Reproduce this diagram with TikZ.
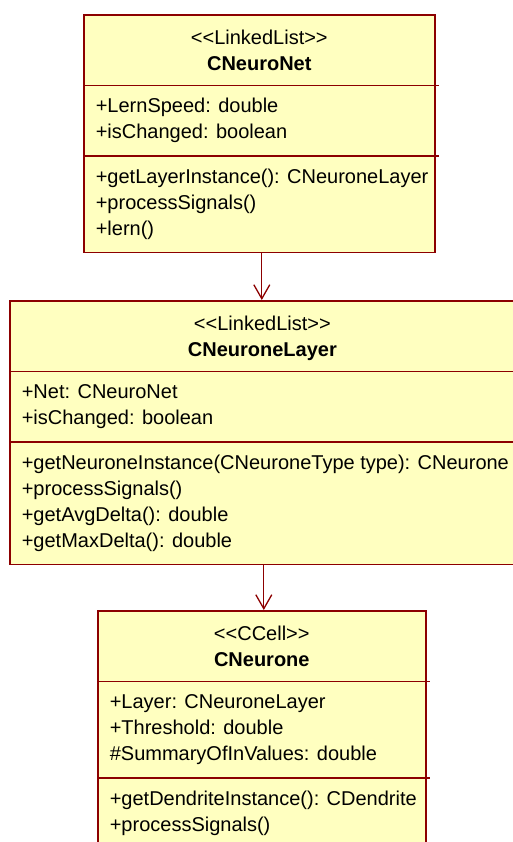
\documentclass[tikz,border=0pt]{standalone}
\usepackage{fontspec}
\setmainfont{Liberation Sans}
\usetikzlibrary{shapes.multipart,arrows.meta}
\definecolor{umlborder}{RGB}{140,0,0}
\definecolor{umlfill}{RGB}{255,255,192}
\tikzset{umlclass/.style={rectangle split, rectangle split parts=3,
      draw=umlborder, fill=umlfill, line width=1.6pt,
      inner xsep=9pt, inner ysep=8.5pt, anchor=north west,
      rectangle split part align={center,left,left},
      font=\fontsize{20}{26}\selectfont}}
\tikzset{umlarrow/.style={draw=umlborder, line width=1.3pt,
      -{Straight Barb[length=14pt,width=16pt]}}}
\newcommand{\umlhead}[2]{\begin{tabular}{@{}c@{}}\raisebox{-2pt}{<{}<#1>{}>}\\\raisebox{-2pt}{\textbf{#2}}\end{tabular}}
\newcommand{\umlrows}[1]{\begin{tabular}{@{\hspace{3pt}}l@{\hspace{-3pt}}}#1\end{tabular}}

\begin{document}
\begin{tikzpicture}[x=1pt,y=-1pt]
    \useasboundingbox (0,0) rectangle (513,842);
    \clip (0,0) rectangle (513,842);

    \node[umlclass, minimum width=351pt] (net) at (83,14)
      {\umlhead{LinkedList}{CNeuroNet}
       \nodepart{second}\umlrows{+LernSpeed: double\\+isChanged: boolean}
       \nodepart{third}\umlrows{+getLayerInstance(): CNeuroneLayer\\+processSignals()\\+lern()}};

    \node[umlclass] (layer) at (9,300)
      {\umlhead{LinkedList}{CNeuroneLayer}
       \nodepart{second}\umlrows{+Net: CNeuroNet\\+isChanged: boolean}
       \nodepart{third}\umlrows{+getNeuroneInstance(CNeuroneType type): CNeurone\\+processSignals()\\+getAvgDelta(): double\\+getMaxDelta(): double}};

    \node[umlclass, minimum width=328pt] (neurone) at (97,610)
      {\umlhead{CCell}{CNeurone}
       \nodepart{second}\umlrows{+Layer: CNeuroneLayer\\+Threshold: double\\\#SummaryOfInValues: double}
       \nodepart{third}\umlrows{+getDendriteInstance(): CDendrite\\+processSignals()}};

    % compartment lines stick out a little on the right
    \foreach \c in {net,layer,neurone} {
      \draw[umlborder, line width=1.6pt] (\c.text split east) -- ++(3,0);
      \draw[umlborder, line width=1.6pt] (\c.second split east) -- ++(3,0);
    }

    \draw[umlarrow] ([xshift=2.5pt]net.south) -- ([xshift=2.5pt]net.south |- layer.north);
    \draw[umlarrow] ([xshift=2pt]neurone.north |- layer.south) -- ([xshift=2pt]neurone.north);
\end{tikzpicture}
\end{document}
